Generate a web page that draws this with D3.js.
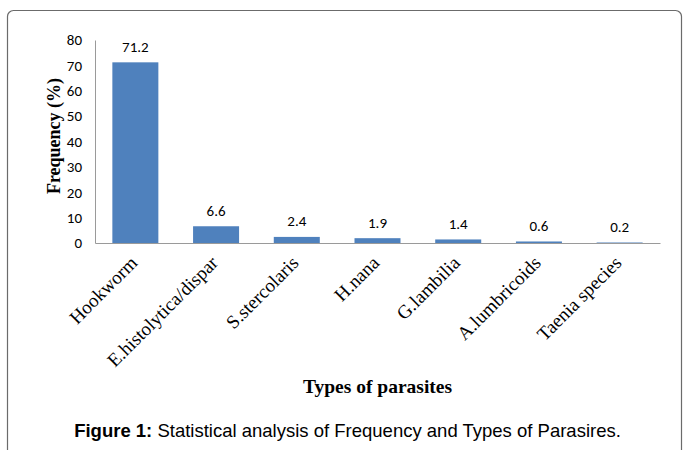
<!DOCTYPE html>
<html>
<head>
<meta charset="utf-8">
<script src="https://cdn.jsdelivr.net/npm/d3@7"></script>
<style>
  body { margin: 0; background: #fff; }
</style>
</head>
<body>
<div id="chart"></div>
<script>
'use strict';

let parasites = ['Hookworm', 'E.histolytica/dispar', 'S.stercolaris', 'H.nana', 'G.lambilia', 'A.lumbricoids', 'Taenia species'];
let frequency = [71.2, 6.6, 2.4, 1.9, 1.4, 0.6, 0.2];
let yTicks = [0, 10, 20, 30, 40, 50, 60, 70, 80];

draw();

function draw() {
    let width = 683, height = 450;
    let svg = d3.select('#chart')
        .append('svg')
        .attr('width', width)
        .attr('height', height);

    // outer frame
    svg.append('rect')
        .attr('x', 7.5).attr('y', 10.5)
        .attr('width', 674).attr('height', 460)
        .attr('rx', 6)
        .attr('fill', 'none')
        .attr('stroke', '#6b6b6b')
        .attr('stroke-width', 1.2);

    let left = 95, right = 660, top = 40, bottom = 243;

    let x = d3.scaleBand()
        .domain(parasites)
        .range([left, right])
        .paddingInner(0.43)
        .paddingOuter(0.215);

    let y = d3.scaleLinear()
        .domain([0, 80])
        .range([bottom, top]);

    // bars
    svg.selectAll('rect.bar')
        .data(frequency)
        .enter()
        .append('rect')
        .attr('class', 'bar')
        .attr('x', function (d, i) { return x(parasites[i]); })
        .attr('y', function (d) { return y(d); })
        .attr('width', x.bandwidth())
        .attr('height', function (d) { return y(0) - y(d); })
        .attr('fill', '#4f81bd');

    // value labels
    svg.selectAll('text.val')
        .data(frequency)
        .enter()
        .append('text')
        .attr('class', 'val')
        .attr('x', function (d, i) { return x(parasites[i]) + x.bandwidth() / 2; })
        .attr('y', function (d) { return y(d) - 10.5; })
        .attr('text-anchor', 'middle')
        .style('font-family', 'Carlito, "Open Sans", sans-serif')
        .style('font-size', '15px')
        .attr('fill', '#000')
        .text(function (d) { return d; });

    // y axis
    let yAxis = d3.axisLeft(y)
        .tickValues(yTicks)
        .tickSize(0)
        .tickPadding(13);
    let gy = svg.append('g')
        .attr('transform', 'translate(' + left + ',0)')
        .call(yAxis);
    gy.select('.domain').attr('stroke', '#9a9a9a');
    gy.selectAll('text')
        .style('font-family', 'Carlito, "Open Sans", sans-serif')
        .style('font-size', '15px')
        .attr('fill', '#000');

    // x axis
    let xAxis = d3.axisBottom(x).tickSize(0).tickPadding(0);
    let gx = svg.append('g')
        .attr('transform', 'translate(0,' + bottom + ')')
        .call(xAxis);
    gx.select('.domain').attr('stroke', '#9a9a9a');
    gx.selectAll('text')
        .style('font-family', '"Liberation Serif", "Times New Roman", serif')
        .style('font-size', '19px')
        .attr('fill', '#000')
        .attr('text-anchor', 'end')
        .attr('dy', '0')
        .attr('transform', 'translate(3,21) rotate(-45)');

    // axis titles
    svg.append('text')
        .attr('transform', 'translate(60,136) rotate(-90)')
        .attr('text-anchor', 'middle')
        .style('font-family', '"Liberation Serif", "Times New Roman", serif')
        .style('font-size', '18px')
        .style('font-weight', 'bold')
        .text('Frequency (%)');

    svg.append('text')
        .attr('x', 377.5).attr('y', 393)
        .attr('text-anchor', 'middle')
        .style('font-family', '"Liberation Serif", "Times New Roman", serif')
        .style('font-size', '19.5px')
        .style('font-weight', 'bold')
        .text('Types of parasites');

    // caption
    let cap = svg.append('text')
        .attr('x', 347.5).attr('y', 437)
        .attr('text-anchor', 'middle')
        .style('font-family', '"Liberation Sans", Arial, sans-serif')
        .style('font-size', '18.5px');
    cap.append('tspan').style('font-weight', 'bold').text('Figure 1:');
    cap.append('tspan').text(' Statistical analysis of Frequency and Types of Parasires.');
}
</script>
</body>
</html>
